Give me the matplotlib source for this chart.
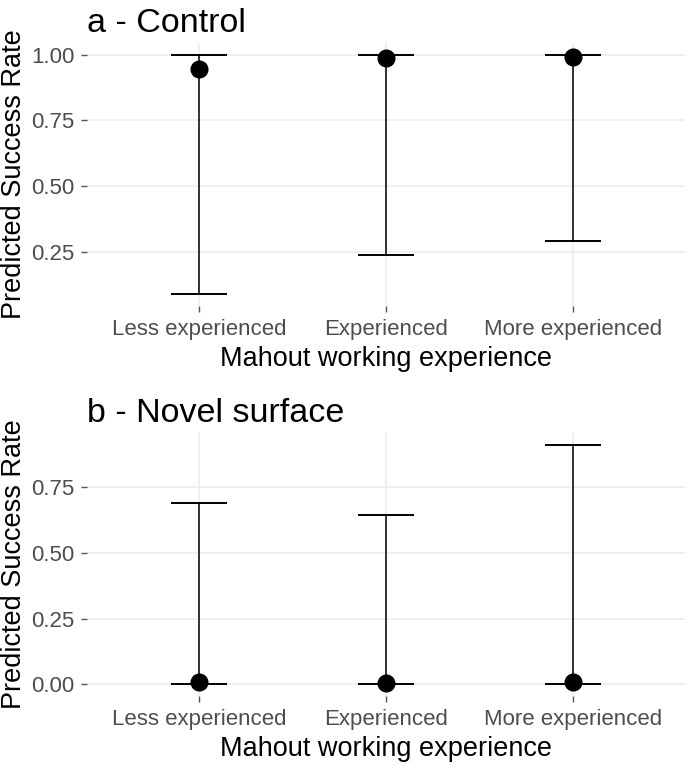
"""Predicted success rate by mahout working experience, two conditions."""
import matplotlib
matplotlib.use("Agg")
import matplotlib.pyplot as plt
import numpy as np

plt.rcParams["font.family"] = ["Liberation Sans", "DejaVu Sans"]

categories = ["Less experienced", "Experienced", "More experienced"]

control_fit = [0.946, 0.988, 0.992]
control_low = [0.088, 0.238, 0.289]
control_high = [1.0, 1.0, 1.0]

novel_fit = [0.008, 0.003, 0.008]
novel_low = [0.0, 0.0, 0.0]
novel_high = [0.689, 0.645, 0.912]

panels = [
    ("a - Control", control_fit, control_low, control_high, [0.25, 0.50, 0.75, 1.00]),
    ("b - Novel surface", novel_fit, novel_low, novel_high, [0.00, 0.25, 0.50, 0.75]),
]

fig = plt.figure(figsize=(6.85, 7.65), dpi=100)
axes = [
    fig.add_axes([87 / 685, 1 - 306 / 765, 598 / 685, 263 / 765]),
    fig.add_axes([87 / 685, 1 - 696 / 765, 598 / 685, 263 / 765]),
]

for ax, (title, fit, low, high, yticks) in zip(axes, panels):
    x = np.arange(len(categories))
    fit = np.asarray(fit)
    low = np.asarray(low)
    high = np.asarray(high)
    ax.errorbar(x, fit, yerr=[fit - low, high - fit], fmt="none",
                ecolor="black", elinewidth=1.1, capsize=0, zorder=3)
    ax.hlines(low, x - 0.15, x + 0.15, color="black", linewidth=1.4, zorder=3)
    ax.hlines(high, x - 0.15, x + 0.15, color="black", linewidth=1.4, zorder=3)
    ax.plot(x, fit, "o", color="black", markersize=12, zorder=4)

    lo = min(low.min(), fit.min())
    hi = max(high.max(), fit.max())
    pad = (hi - lo) * 0.05
    ax.set_ylim(lo - pad, hi + pad)
    ax.set_xlim(-0.6, len(categories) - 0.4)
    ax.set_yticks(yticks, [f"{t:.2f}" for t in yticks])
    ax.set_xticks(x, categories)

    ax.set_facecolor("white")
    for spine in ax.spines.values():
        spine.set_visible(False)
    ax.grid(True, color="#EBEBEB", linewidth=1.1)
    ax.set_axisbelow(True)
    ax.tick_params(axis="both", colors="#555555", length=4.5, width=1,
                   labelsize=16, labelcolor="#4D4D4D", pad=4.5)

    ax.set_xlabel("Mahout working experience", fontsize=19.5, color="black", labelpad=5)
    ax.set_ylabel("Predicted Success Rate", fontsize=19.5, color="black", labelpad=3)
    ax.set_title(title, loc="left", fontsize=24.5, color="black", pad=8)

fig.savefig("out.png", dpi=100, facecolor="white")
